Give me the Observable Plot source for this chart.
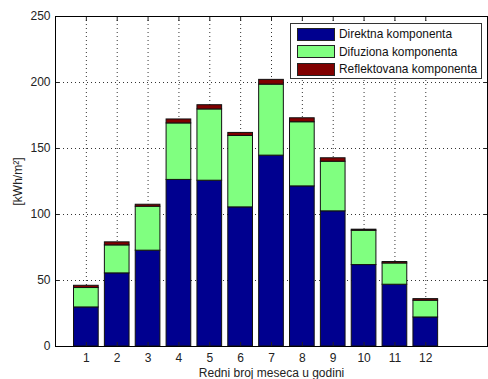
<!DOCTYPE html>
<html>
<head>
<meta charset="utf-8">
<script src="https://cdn.jsdelivr.net/npm/d3@7"></script>
<script src="https://cdn.jsdelivr.net/npm/@observablehq/plot@0.6"></script>
<style>
  html, body { margin: 0; padding: 0; background: #fff; }
  #wrap { position: relative; width: 488px; height: 379px; font-family: "Liberation Sans", Arial, sans-serif; }
  #legend { position: absolute; left: 290px; top: 23px; width: 192px; height: 56px; border: 1px solid #333; background: #fff; box-sizing: border-box; }
  .row { position: absolute; left: 6px; height: 13px; display: flex; align-items: center; }
  .sw { width: 38px; height: 13px; border: 1px solid #222; box-sizing: border-box; margin-right: 4px; }
  .lbl { font-size: 11.9px; color: #111; white-space: nowrap; }
</style>
</head>
<body>
<div id="wrap"></div>
<script>
const months = [1, 2, 3, 4, 5, 6, 7, 8, 9, 10, 11, 12];
const direct = [29.6, 55.4, 72.6, 126.2, 125.6, 105.4, 144.6, 121.3, 102.4, 61.7, 46.8, 22.0];
const diffuse = [14.7, 21.2, 33.3, 42.8, 54.0, 54.1, 53.8, 48.6, 37.6, 26.0, 16.1, 12.7];
const reflected = [1.7, 2.3, 1.5, 3.0, 3.2, 2.3, 3.6, 3.0, 2.6, 0.8, 1.1, 1.2];
const components = ["Direktna komponenta", "Difuziona komponenta", "Reflektovana komponenta"];
const colors = ["#00008F", "#80FF80", "#800000"];
const yTicks = [0, 50, 100, 150, 200, 250];

const series = [direct, diffuse, reflected];
const rows = [];
months.forEach((m, i) => {
  let base = 0;
  series.forEach((s, k) => {
    rows.push({month: m, comp: components[k], y1: base, y2: base + s[i]});
    base += s[i];
  });
});

const chart = Plot.plot({
  width: 488,
  height: 379,
  marginLeft: 55,
  marginRight: 1,
  marginTop: 16,
  marginBottom: 33,
  style: {fontFamily: "Liberation Sans, Arial, sans-serif", fontSize: "11.5px", color: "#222", background: "#fff"},
  x: {type: "linear", domain: [0, 14]},
  y: {domain: [0, 250]},
  color: {domain: components, range: colors},
  marks: [
    Plot.gridX(months, {stroke: "#000", strokeOpacity: 0.8, strokeDasharray: "1,3"}),
    Plot.gridY(yTicks.slice(1, -1), {stroke: "#000", strokeOpacity: 0.8, strokeDasharray: "1,3"}),
    Plot.rectY(rows, {x1: d => d.month - 0.4, x2: d => d.month + 0.4, y1: "y1", y2: "y2", fill: "comp", stroke: "#111", strokeWidth: 1}),
    Plot.axisX(months, {anchor: "bottom", tickSize: -4, tickPadding: 11, label: "Redni broj meseca u godini", labelAnchor: "center", labelArrow: "none", labelOffset: 30, fontSize: 12}),
    Plot.axisX(months, {anchor: "top", tickSize: -4, tickFormat: () => "", label: null}),
    Plot.axisY(yTicks, {anchor: "left", tickSize: -4, tickPadding: 9, label: "[kWh/m²]", labelAnchor: "center", labelArrow: "none", labelOffset: 42, fontSize: 12}),
    Plot.axisY(yTicks, {anchor: "right", tickSize: -4, tickFormat: () => "", label: null}),
    Plot.frame({stroke: "#000", strokeWidth: 1})
  ]
});
const wrap = document.getElementById("wrap");
wrap.appendChild(chart);

const legend = document.createElement("div");
legend.id = "legend";
components.forEach((c, k) => {
  const r = document.createElement("div");
  r.className = "row";
  r.style.top = (3.5 + k * 17.5) + "px";
  const sw = document.createElement("div");
  sw.className = "sw";
  sw.style.background = colors[k];
  const t = document.createElement("span");
  t.className = "lbl";
  t.textContent = c;
  r.appendChild(sw); r.appendChild(t);
  legend.appendChild(r);
});
wrap.appendChild(legend);
</script>
</body>
</html>
